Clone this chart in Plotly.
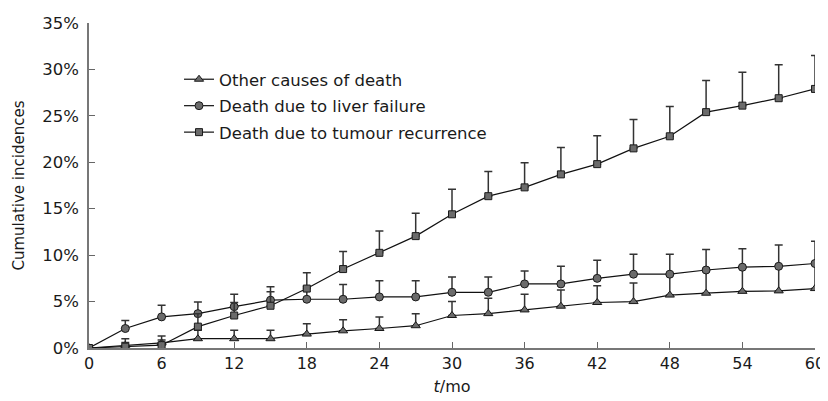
import plotly.graph_objects as go

months = [0, 3, 6, 9, 12, 15, 18, 21, 24, 27, 30, 33, 36, 39, 42, 45, 48, 51, 54, 57, 60]

other_causes = [0, 0.3, 0.55, 1.0, 1.0, 1.0, 1.5, 1.85, 2.1, 2.4, 3.5, 3.7, 4.1, 4.5, 4.9, 5.0, 5.7, 5.9, 6.1, 6.15, 6.4]
other_upper = [0, 1.0, 1.3, 1.9, 1.9, 1.9, 2.6, 3.05, 3.35, 3.7, 5.0, 5.35, 5.8, 6.25, 6.7, 7.0, 7.9, 8.3, 8.6, 8.8, 9.0]

liver_failure = [0, 2.1, 3.35, 3.7, 4.45, 5.15, 5.25, 5.25, 5.5, 5.5, 6.0, 6.0, 6.9, 6.9, 7.5, 7.95, 7.95, 8.4, 8.7, 8.8, 9.1]
liver_upper = [0, 2.95, 4.6, 4.95, 5.8, 6.6, 6.6, 6.85, 7.25, 7.25, 7.65, 7.65, 8.3, 8.8, 9.45, 10.1, 10.1, 10.6, 10.7, 11.1, 11.5]

tumour = [0, 0.15, 0.3, 2.3, 3.5, 4.55, 6.4, 8.5, 10.25, 12.05, 14.4, 16.35, 17.3, 18.7, 19.8, 21.5, 22.8, 25.4, 26.1, 26.9, 27.9]
tumour_upper = [0, 0.6, 0.85, 3.7, 4.9, 6.07, 8.1, 10.4, 12.6, 14.5, 17.1, 19.0, 19.95, 21.6, 22.85, 24.6, 26.0, 28.8, 29.7, 30.5, 31.5]

x_ticks = [0, 6, 12, 18, 24, 30, 36, 42, 48, 54, 60]
y_ticks = [0, 5, 10, 15, 20, 25, 30, 35]
y_tick_labels = [f"{v}%" for v in y_ticks]

series = [
    ("Other causes of death", other_causes, other_upper, "triangle-up", 8),
    ("Death due to liver failure", liver_failure, liver_upper, "circle", 8),
    ("Death due to tumour recurrence", tumour, tumour_upper, "square", 7),
]

FONT = "DejaVu Sans"
fig = go.Figure()
for i, (name, vals, upper, sym, size) in enumerate(series):
    plus = [u - v for u, v in zip(upper, vals)]
    fig.add_trace(go.Scatter(
        x=months, y=vals, name=name, mode="lines+markers",
        legendgroup=f"g{i}",
        line=dict(color="#111111", width=1.2),
        marker=dict(symbol=sym, size=size, color="#6b6b6b",
                    line=dict(color="#1a1a1a", width=1)),
        error_y=dict(type="data", symmetric=False, array=plus,
                     arrayminus=[0] * len(vals), color="#333333",
                     thickness=1.5, width=4),
    ))

# page body has an 8px margin, so the figure is sized 8px smaller
fig.update_layout(
    width=820, height=393,
    margin=dict(l=81, r=13, t=15, b=53),
    paper_bgcolor="white", plot_bgcolor="white",
    font=dict(family=FONT, size=16, color="#1a1a1a"),
    showlegend=True,
    legend=dict(x=0.124, y=0.88, xanchor="left", yanchor="top",
                bgcolor="rgba(0,0,0,0)", font=dict(size=16.5),
                itemwidth=30, tracegroupgap=2),
    xaxis=dict(range=[0, 60], tickvals=x_ticks, ticks="inside", ticklen=6,
               tickcolor="#666666", showline=True, linecolor="#777777",
               linewidth=1.5, showgrid=False, zeroline=False, automargin=False,
               title=dict(text="<i>t</i>/mo", font=dict(size=16), standoff=9)),
    yaxis=dict(range=[0, 35], tickvals=y_ticks, ticktext=y_tick_labels,
               ticks="inside", ticklen=6, tickcolor="#666666", showline=True,
               linecolor="#777777", linewidth=1.5, showgrid=False,
               zeroline=False, automargin=False, ticklabelstandoff=5,
               tickfont=dict(size=16.5),
               title=dict(text="Cumulative incidences", font=dict(size=15), standoff=14)),
)

fig.write_html("out.html")
